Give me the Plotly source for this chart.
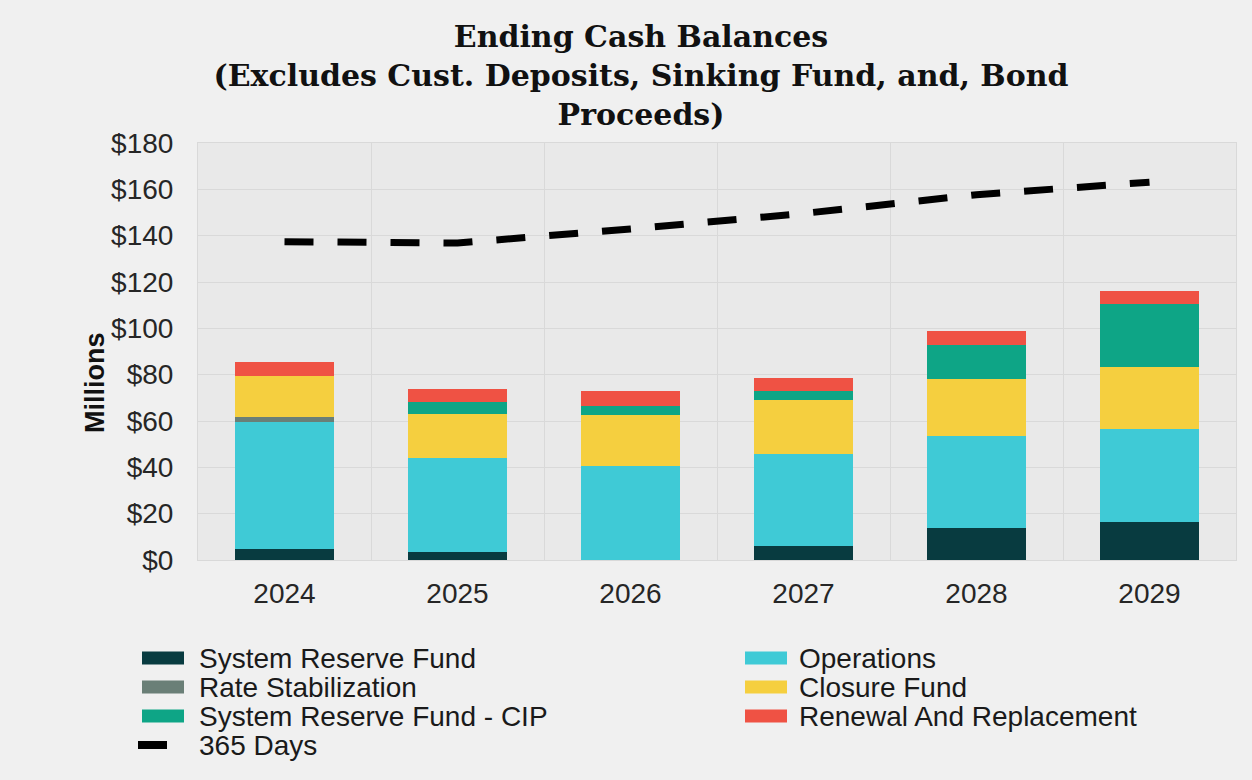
import plotly.graph_objects as go

# Fiscal years shown on the category axis
years = ["2024", "2025", "2026", "2027", "2028", "2029"]

# Ending balances by fund, $ millions
system_reserve_fund = [4.7, 3.3, 0.0, 5.9, 13.9, 16.4]
operations = [55.0, 40.6, 40.7, 39.8, 39.6, 40.0]
rate_stabilization = [2.1, 0.0, 0.0, 0.0, 0.0, 0.0]
closure_fund = [17.6, 19.1, 21.9, 23.4, 24.6, 26.8]
system_reserve_cip = [0.0, 5.1, 4.0, 3.8, 14.7, 27.2]
renewal_replacement = [6.2, 5.7, 6.3, 5.8, 6.0, 5.7]

# 365 days of operating cash target, $ millions
days_365 = [137.4, 136.8, 142.9, 149.6, 157.7, 163.1]

y_ticks = [0, 20, 40, 60, 80, 100, 120, 140, 160, 180]
y_tick_labels = ["$" + str(v) for v in y_ticks]

SANS = "Liberation Sans, Arial, sans-serif"

# Figure geometry (pixels)
W, H = 1252, 780
M_L, M_R, M_T, M_B = 198, 16, 143, 220
PLOT_W = W - M_L - M_R
PLOT_H = H - M_T - M_B


def px_x(px):
    return (px - M_L) / PLOT_W


def px_y(py):
    return (H - M_B - py) / PLOT_H


stack = [
    ("System Reserve Fund", system_reserve_fund, "#083b40"),
    ("Operations", operations, "#3fcad6"),
    ("Rate Stabilization", rate_stabilization, "#6a7f77"),
    ("Closure Fund", closure_fund, "#f5cf3f"),
    ("System Reserve Fund - CIP", system_reserve_cip, "#0ea586"),
    ("Renewal And Replacement", renewal_replacement, "#ef5244"),
]
line_name, line_color = "365 Days", "#000000"

fig = go.Figure()
for name, vals, color in stack:
    fig.add_trace(go.Bar(
        x=years, y=vals, name=name,
        marker=dict(color=color, line=dict(width=0)),
    ))

fig.add_trace(go.Scatter(
    x=years, y=days_365, name=line_name, mode="lines",
    line=dict(color=line_color, width=7, dash="29px,24px"),
))

# Two-column legend below the chart: left column, then right column
legend_left = [stack[0], stack[2], stack[4]]
legend_right = [stack[1], stack[3], stack[5]]
row_y = [658, 687, 716, 745]
shapes, annotations = [], []


def add_entry(name, color, sw_x, txt_x, cy, is_line=False):
    if is_line:
        shapes.append(dict(
            type="rect", xref="paper", yref="paper",
            x0=px_x(sw_x), x1=px_x(sw_x + 29),
            y0=px_y(cy + 4), y1=px_y(cy - 4),
            fillcolor=color, line=dict(width=0),
        ))
    else:
        shapes.append(dict(
            type="rect", xref="paper", yref="paper",
            x0=px_x(sw_x), x1=px_x(sw_x + 42),
            y0=px_y(cy + 6.5), y1=px_y(cy - 6.5),
            fillcolor=color, line=dict(width=0),
        ))
    annotations.append(dict(
        text=name, x=px_x(txt_x), y=px_y(cy), xref="paper", yref="paper",
        xanchor="left", yanchor="middle", showarrow=False,
        font=dict(family=SANS, size=28, color="#1a1a1a"),
    ))


for (name, _, color), cy in zip(legend_left, row_y):
    add_entry(name, color, 142, 197, cy)
add_entry(line_name, line_color, 138, 197, row_y[3], is_line=True)
for (name, _, color), cy in zip(legend_right, row_y):
    add_entry(name, color, 745, 797, cy)

annotations.append(dict(
    text="<b>Millions</b>", textangle=-90,
    x=px_x(95), y=px_y(383), xref="paper", yref="paper",
    xanchor="center", yanchor="middle",
    showarrow=False, font=dict(family=SANS, size=27, color="#111111"),
))

fig.update_layout(
    width=W, height=H,
    barmode="stack", bargap=0.43, showlegend=False,
    paper_bgcolor="#f0f0f0", plot_bgcolor="#e9e9e9",
    margin=dict(l=M_L, r=M_R, t=M_T, b=M_B),
    font=dict(family=SANS, size=28, color="#262626"),
    title=dict(
        text="Ending Cash Balances<br>(Excludes Cust. Deposits, Sinking Fund, and, Bond<br>Proceeds)",
        font=dict(family="DejaVu Serif, serif", size=30, color="#111111", weight="bold"),
        x=0.512, xanchor="center", xref="container",
        y=0.94, yanchor="top", yref="container",
    ),
    xaxis=dict(
        tickson="boundaries", showgrid=True, gridcolor="#d9d9d9", gridwidth=1,
        showline=True, linecolor="#d9d9d9", mirror=True, ticks="",
        tickfont=dict(size=28, color="#262626"), ticklabelstandoff=8,
    ),
    yaxis=dict(
        range=[0, 180], tickmode="array", tickvals=y_ticks, ticktext=y_tick_labels,
        showgrid=True, gridcolor="#d9d9d9", gridwidth=1,
        showline=True, linecolor="#d9d9d9", mirror=True, ticks="",
        zeroline=False,
        tickfont=dict(size=28, color="#262626"), ticklabelstandoff=18,
    ),
    shapes=shapes,
    annotations=annotations,
)

fig.write_html("out.html")
